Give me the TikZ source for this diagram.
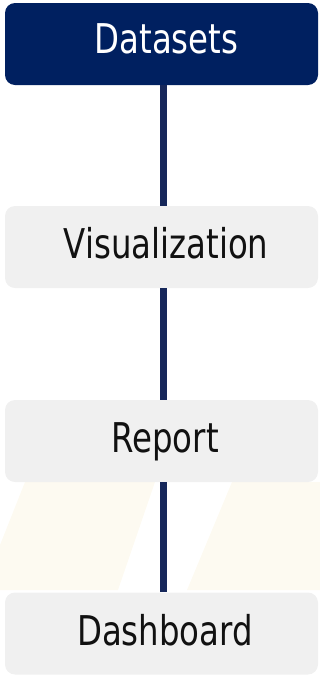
\documentclass[tikz,border=0pt]{standalone}
\usepackage{fontspec}
\setmainfont{DejaVu Sans}[FakeStretch=0.79]
\definecolor{navy}{HTML}{002060}
\definecolor{linec}{HTML}{16275A}
\definecolor{boxgray}{HTML}{F0F0F0}
\definecolor{cream}{HTML}{FDFAF1}
\definecolor{txt}{HTML}{111111}
\tikzset{
  stepbox/.style={rectangle, rounded corners=10pt, minimum width=313pt, minimum height=82pt, inner sep=0pt, draw=none},
  lbl/.style={anchor=base, inner sep=0pt, font=\fontsize{41pt}{41pt}\selectfont},
  conn/.style={draw=linec, line width=6.5pt}
}
\begin{document}
\begin{tikzpicture}[x=1pt,y=-1pt]
\useasboundingbox (0,0) rectangle (320,675);
% faint watermark
\fill[cream] (25,482) -- (155,482) -- (118,590) -- (0,590) -- (0,545) -- cycle;
\fill[cream] (232,482) -- (320,482) -- (320,590) -- (187,590) -- cycle;
% boxes
\node[stepbox, fill=navy] (d) at (161.5,44) {};
\node[stepbox, fill=boxgray] (v) at (161.5,247) {};
\node[stepbox, fill=boxgray] (r) at (161.5,441) {};
\node[stepbox, fill=boxgray] (b) at (161.5,633.5) {};
% labels
\node[lbl, text=white] (dt) at (166.5,53) {Datasets};
\node[lbl, text=txt] (vt) at (166,258) {Visualization};
\node[lbl, text=txt] (rt) at (165,452) {Report};
\node[lbl, text=txt] (bt) at (165,645) {Dashboard};
% connectors
\draw[conn] ([xshift=2pt]d.south) -- ([xshift=2pt]v.north);
\draw[conn] ([xshift=2pt]v.south) -- ([xshift=2pt]r.north);
\draw[conn] ([xshift=2pt]r.south) -- ([xshift=2pt]b.north);
\end{tikzpicture}
\end{document}
